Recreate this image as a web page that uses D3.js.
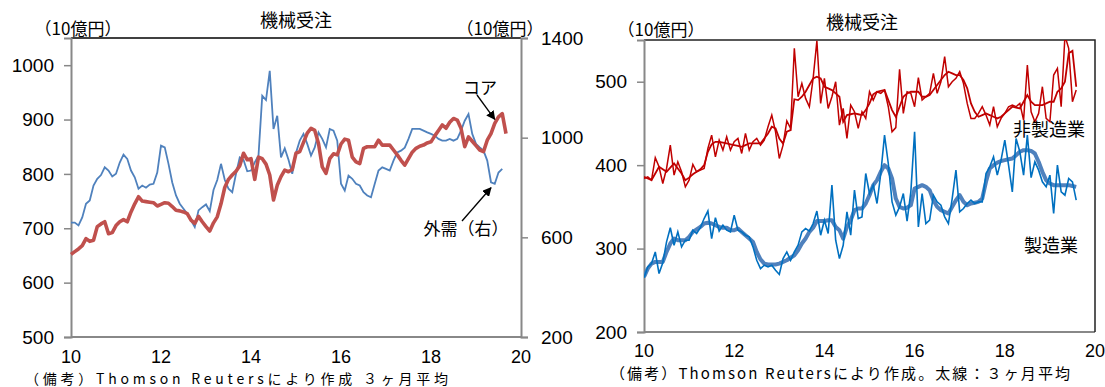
<!DOCTYPE html>
<html><head><meta charset="utf-8">
<script src="https://cdn.jsdelivr.net/npm/d3@7"></script>
<style>
body{margin:0;background:#fff}
svg text{fill:#000}
.num{font-family:"Liberation Sans",Arial,sans-serif;font-size:19px}
.jp{font-family:"Noto Sans CJK JP",sans-serif}
</style></head>
<body><svg id="c" width="1105" height="387"></svg>
<script>
// 機械受注 — left: コア (left axis) vs 外需 (right axis); right: 製造業 / 非製造業
const coreVals = [652,657,662,668,681,676,678,703,708,712,690,692,705,712,716,712,730,745,758,750,
  749,748,747,741,744,747,746,740,733,732,730,727,715,709,722,712,703,695,710,721,
  745,775,790,798,805,815,838,826,828,790,831,828,818,798,752,779,795,807,804,808,
  838,841,858,875,884,880,856,813,801,828,837,835,855,864,862,831,822,819,847,850,
  850,850,862,853,853,853,844,835,825,816,828,840,847,851,853,857,859,870,880,890,
  884,895,902,899,884,850,868,860,852,844,841,862,874,893,905,911,874];
const extVals = [659,659,648,680,735,748,808,835,850,881,868,844,855,900,932,915,868,841,795,808,
  799,812,815,860,968,961,895,820,768,735,715,695,668,641,708,721,732,705,790,830,
  895,831,795,781,855,921,911,865,868,901,928,1168,1151,1268,1035,1088,921,957,911,855,
  940,988,1015,975,928,961,1021,995,961,1035,1028,988,815,788,848,835,815,808,781,768,
  761,815,868,881,875,868,908,941,948,960,995,1035,1035,1035,1028,1021,1015,1008,995,988,
  988,995,988,995,1028,1068,1095,1015,975,961,948,908,821,815,860,875];

const nonMfg = [384,386,382,409,398,378,396,424,388,404,392,374,382,401,392,394,396,420,436,410,
  430,418,434,418,428,432,414,438,418,428,432,424,430,446,460,440,408,424,453,444,
  540,482,498,480,470,504,549,474,504,468,482,500,448,468,432,472,464,444,464,456,
  488,478,488,486,490,470,440,445,515,462,488,486,470,505,478,482,486,510,486,500,
  530,494,500,504,512,498,474,456,456,462,470,460,448,470,446,456,462,470,472,470,
  474,454,520,464,452,462,494,456,452,508,516,470,555,540,476,490];
const nonMfgAvg = [386,384,382,390,398,395,392,397,402,396,390,382,385,389,392,395,400,416,425,428,
  428,427,426,425,424,423,422,424,426,426,426,426,432,438,446,444,432,426,440,442,
  479,478,482,488,496,504,506,504,494,492,490,486,482,452,460,461,462,461,460,466,
  474,485,488,489,490,478,466,458,470,482,486,488,488,488,482,482,484,490,496,502,
  508,512,510,508,508,502,492,474,464,458,460,462,460,458,456,458,462,466,470,469,
  468,476,484,476,472,472,472,474,476,476,488,492,500,534,537,494];
const mfg = [265,278,282,296,270,283,308,325,304,320,302,310,310,322,318,325,336,345,312,337,
  321,328,322,320,340,322,320,316,314,302,286,276,280,278,280,274,269,288,296,286,
  296,304,320,324,321,330,345,316,334,318,376,310,288,304,344,316,370,336,338,390,
  366,376,354,390,436,402,356,340,350,366,333,368,440,326,366,330,334,364,356,352,
  338,330,360,394,344,348,354,358,354,356,356,390,398,410,388,406,430,400,368,432,
  416,388,436,385,404,394,380,374,388,342,400,368,364,384,380,358];
const mfgAvg = [266,276,282,284,284,284,296,306,312,310,310,310,314,320,323,326,330,331,330,328,
  326,325,325,322,322,324,320,316,312,308,296,287,282,281,281,281,282,284,286,289,
  292,298,306,312,320,325,333,333,333,334,334,326,322,312,326,334,346,348,348,354,
  364,376,382,392,400,396,384,360,350,348,349,352,372,374,376,374,370,358,350,346,
  344,342,350,358,364,356,352,354,355,356,360,380,396,400,403,405,406,407,408,412,
  416,418,418,417,414,404,392,382,378,376,376,376,376,376,375,374];

const yearTicks = [10,12,14,16,18,20];
const coreTicks = [500,600,700,800,900,1000];
const extTicks = [200,600,1000,1400];
const rightTicks = [200,300,400,500];

const svg = d3.select("#c");
const asPts = (arr) => arr.map((v, i) => [10 + i/12, v]);

function frameAxis(g, y0, ticks, side) {
  // gray axis line with short outward ticks and labels
  const a = (side === "left" ? d3.axisLeft(y0) : d3.axisRight(y0))
    .tickValues(ticks).tickSize(7).tickPadding(side === "left" ? 10 : 13).tickFormat(d3.format("d"));
  g.call(a);
  g.select(".domain").attr("stroke", "#888").attr("stroke-width", 2);
  g.selectAll(".tick line").attr("stroke", "#888").attr("stroke-width", 1.5);
  g.selectAll(".tick text").attr("class", "num").attr("fill", "#000");
}

// ---------- left chart ----------
{
  const L = 71, R = 521, T = 38, B = 337;
  const x = d3.scaleLinear([10, 20], [L, R]);
  const yl = d3.scaleLinear([500, 1050], [B, T]);
  const yr = d3.scaleLinear([200, 1400], [B, T]);

  svg.append("line").attr("x1", L).attr("x2", R).attr("y1", T).attr("y2", T)
    .attr("stroke", "#000").attr("stroke-width", 1.5);
  svg.append("line").attr("x1", L).attr("x2", R).attr("y1", B).attr("y2", B)
    .attr("stroke", "#888").attr("stroke-width", 2);
  frameAxis(svg.append("g").attr("transform", `translate(${L},0)`), yl, coreTicks, "left");
  frameAxis(svg.append("g").attr("transform", `translate(${R},0)`), yr, extTicks, "right");

  svg.append("g").selectAll("text").data(yearTicks).join("text").attr("class", "num")
    .attr("font-size", 18).style("font-size", "18px")
    .attr("x", (d) => x(d)).attr("y", 363).attr("text-anchor", "middle").text((d) => d);

  const lx = d3.line().x((p) => x(p[0]));
  svg.append("path").attr("d", lx.y((p) => yr(p[1]))(asPts(extVals)))
    .attr("fill", "none").attr("stroke", "#4F81BD").attr("stroke-width", 1.8);
  svg.append("path").attr("d", lx.y((p) => yl(p[1]))(asPts(coreVals)))
    .attr("fill", "none").attr("stroke", "#C0504D").attr("stroke-width", 3.6)
    .attr("stroke-linejoin", "round");

  svg.append("text").attr("class", "jp").attr("x", L + (R - L) / 2).attr("y", 27)
    .attr("text-anchor", "middle").attr("font-size", 18).text("機械受注");
  svg.append("text").attr("class", "jp").attr("x", 78).attr("y", 35)
    .attr("text-anchor", "middle").attr("font-size", 17).text("（10億円）");
  svg.append("text").attr("class", "jp").attr("x", 500).attr("y", 35)
    .attr("text-anchor", "middle").attr("font-size", 17).text("（10億円）");

  // annotations
  const defs = svg.append("defs");
  defs.append("marker").attr("id", "ah").attr("viewBox", "0 0 10 10").attr("refX", 9).attr("refY", 5)
    .attr("markerWidth", 7).attr("markerHeight", 7).attr("orient", "auto")
    .append("path").attr("d", "M0,0L10,5L0,10z").attr("fill", "#000");
  svg.append("text").attr("class", "jp").attr("x", 480).attr("y", 94)
    .attr("text-anchor", "middle").attr("font-size", 17).text("コア");
  svg.append("line").attr("x1", 477).attr("y1", 95).attr("x2", x(10 + 113/12)).attr("y2", yl(coreVals[113]) - 4)
    .attr("stroke", "#000").attr("stroke-width", 1.3).attr("marker-end", "url(#ah)");
  svg.append("text").attr("class", "jp").attr("x", 466).attr("y", 235)
    .attr("text-anchor", "middle").attr("font-size", 17).text("外需（右）");
  svg.append("line").attr("x1", 462).attr("y1", 221).attr("x2", x(10 + 112/12)).attr("y2", yr(extVals[113]) + 4)
    .attr("stroke", "#000").attr("stroke-width", 1.3).attr("marker-end", "url(#ah)");

  svg.append("text").attr("class", "jp").attr("x", 25).attr("y", 384).attr("font-size", 14)
    .attr("textLength", 423).attr("lengthAdjust", "spacing")
    .text("（備考）Thomson Reutersにより作成 ３ヶ月平均");
}

// ---------- right chart ----------
{
  const L = 644, R = 1095, T = 40, B = 332;
  const x = d3.scaleLinear([10, 20], [L, R]);
  const y = d3.scaleLinear([200, 550], [B, T]);

  svg.append("defs").append("clipPath").attr("id", "rc")
    .append("rect").attr("x", L).attr("y", T).attr("width", R - L).attr("height", B - T);

  svg.append("line").attr("x1", L).attr("x2", R).attr("y1", B).attr("y2", B)
    .attr("stroke", "#888").attr("stroke-width", 2);
  svg.append("path").attr("d", `M${L},${T}H${R}V${B}`).attr("fill", "none")
    .attr("stroke", "#222").attr("stroke-width", 1.5);
  frameAxis(svg.append("g").attr("transform", `translate(${L},0)`), y, rightTicks, "left");

  svg.append("g").selectAll("text").data(yearTicks).join("text").attr("class", "num")
    .style("font-size", "18px")
    .attr("x", (d) => x(d)).attr("y", 357).attr("text-anchor", "middle").text((d) => d);

  const line = d3.line().x((p) => x(p[0])).y((p) => y(p[1]));
  const g = svg.append("g").attr("clip-path", "url(#rc)");
  g.append("path").attr("d", line(asPts(mfgAvg))).attr("fill", "none")
    .attr("stroke", "#4F81BD").attr("stroke-width", 4).attr("stroke-linejoin", "round");
  g.append("path").attr("d", line(asPts(mfg))).attr("fill", "none")
    .attr("stroke", "#0070C0").attr("stroke-width", 1.6);
  g.append("path").attr("d", line(asPts(nonMfgAvg))).attr("fill", "none")
    .attr("stroke", "#C00000").attr("stroke-width", 1.8);
  g.append("path").attr("d", line(asPts(nonMfg))).attr("fill", "none")
    .attr("stroke", "#C00000").attr("stroke-width", 1.5);

  svg.append("text").attr("class", "jp").attr("x", 862).attr("y", 29)
    .attr("text-anchor", "middle").attr("font-size", 18).text("機械受注");
  svg.append("text").attr("class", "jp").attr("x", 661).attr("y", 36)
    .attr("text-anchor", "middle").attr("font-size", 17).text("（10億円）");
  svg.append("text").attr("class", "jp").attr("x", 1049).attr("y", 136)
    .attr("text-anchor", "middle").attr("font-size", 18).text("非製造業");
  svg.append("text").attr("class", "jp").attr("x", 1051).attr("y", 252)
    .attr("text-anchor", "middle").attr("font-size", 18).text("製造業");

  svg.append("text").attr("class", "jp").attr("x", 610).attr("y", 379).attr("font-size", 15)
    .attr("textLength", 460).attr("lengthAdjust", "spacing")
    .text("（備考）Thomson Reutersにより作成。太線：３ヶ月平均");
}
</script></body></html>
